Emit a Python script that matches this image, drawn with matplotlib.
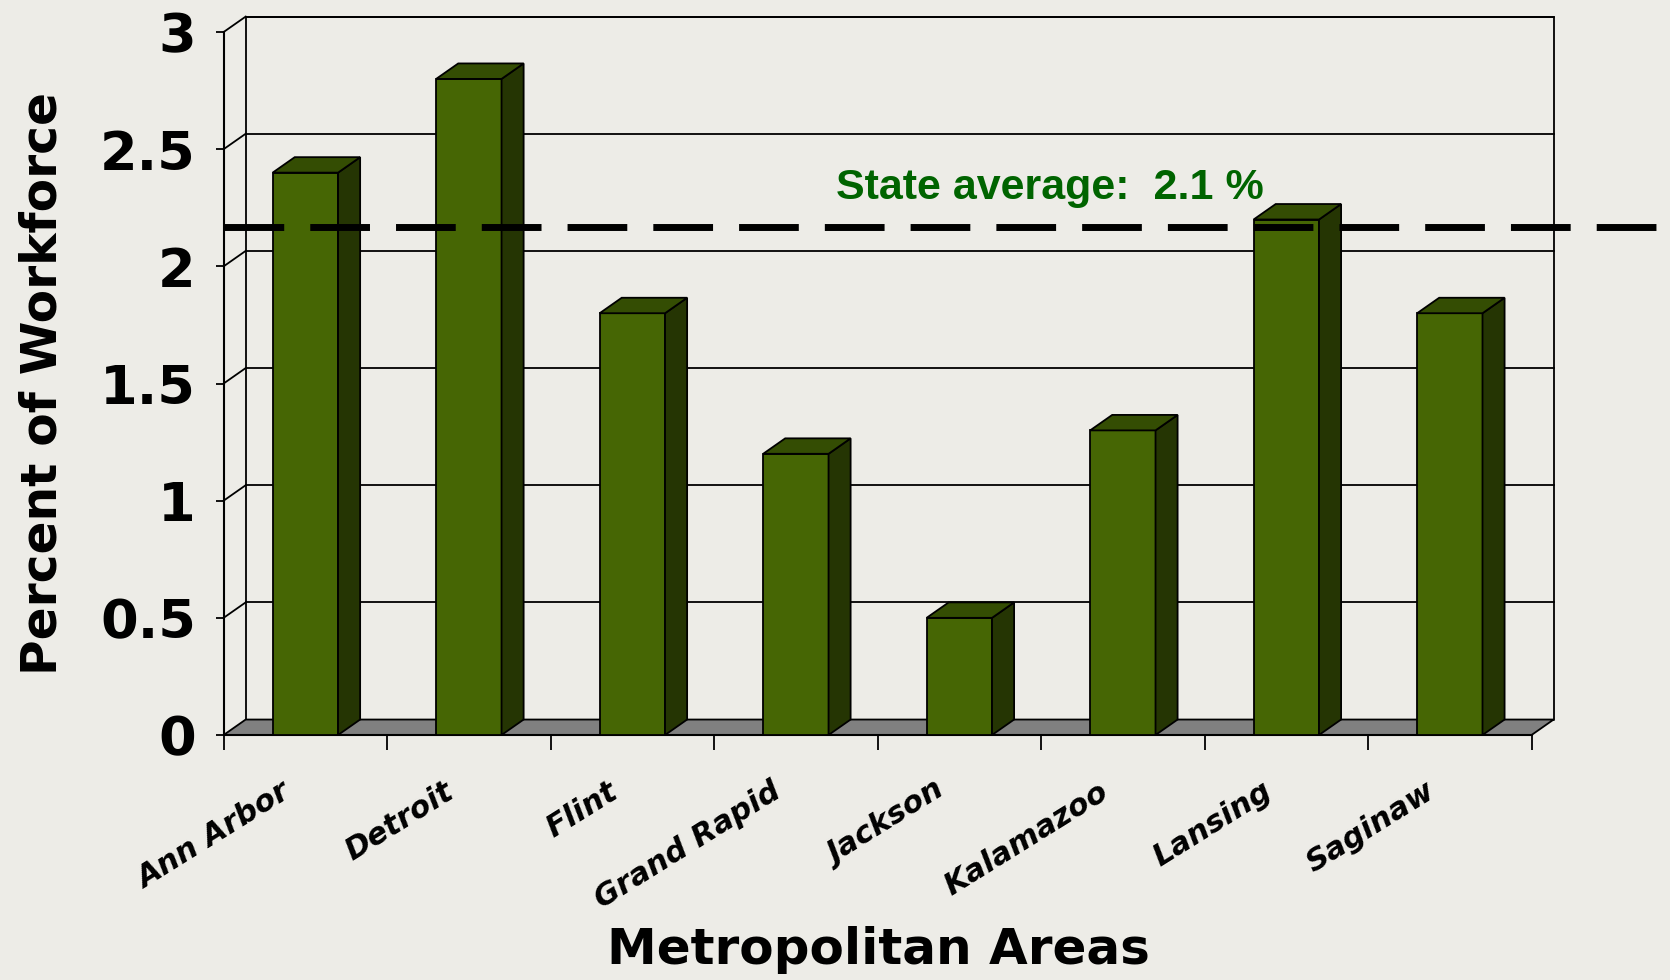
import numpy as np
import matplotlib
matplotlib.use("Agg")
import matplotlib.pyplot as plt
from matplotlib.patches import Polygon
from matplotlib.transforms import ScaledTranslation

# Data
areas = ["Ann Arbor", "Detroit", "Flint", "Grand Rapid", "Jackson",
         "Kalamazoo", "Lansing", "Saginaw"]
percent = [2.4, 2.8, 1.8, 1.2, 0.5, 1.3, 2.2, 1.8]
state_avg = 2.17
state_label = "State average:  2.1 %"
yticks = [0, 0.5, 1, 1.5, 2, 2.5, 3]
ytick_labels = ["0", "0.5", "1", "1.5", "2", "2.5", "3"]

# Colours
bg = "#EDECE7"
front_c = "#466604"
side_c = "#253503"
top_c = "#344D03"
floor_c = "#808080"

n = len(areas)
dx, dy = 0.135, 0.066      # fake 3D depth (x in categories, y in value units)
bw = 0.40                  # bar width
ymax = yticks[-1]

fig = plt.figure(figsize=(16.7, 9.8), dpi=100, facecolor=bg)
ax = fig.add_axes([0.1339, 0.25, 0.7832, 0.7173])
ax.set_facecolor("none")
ax.set_xlim(0, n)
ax.set_ylim(0, ymax)

# back wall + side wall
lw = 1.3
ax.plot([dx, n + dx, n + dx, dx, dx], [dy, dy, ymax + dy, ymax + dy, dy],
        color="black", lw=lw, zorder=1, clip_on=False)
for t in yticks[1:]:
    ax.plot([dx, n + dx], [t + dy, t + dy], color="black", lw=lw, zorder=1, clip_on=False)
    ax.plot([0, dx], [t, t + dy], color="black", lw=lw, zorder=1, clip_on=False)

# floor
ax.add_patch(Polygon([(0, 0), (n, 0), (n + dx, dy), (dx, dy)], closed=True,
                     facecolor=floor_c, edgecolor="black", lw=lw, zorder=1.5,
                     clip_on=False))

# bars
x0 = np.arange(n) + 0.30
bars = ax.bar(x0, percent, width=bw, align="edge", color=front_c,
              edgecolor="black", linewidth=1.3, zorder=3, clip_on=False)
for xs, v in zip(x0, percent):
    x1 = xs + bw
    ax.add_patch(Polygon([(x1, 0), (x1 + dx, dy), (x1 + dx, v + dy), (x1, v)],
                         closed=True, facecolor=side_c, edgecolor="black",
                         lw=1.3, zorder=3, clip_on=False))
    ax.add_patch(Polygon([(xs, v), (x1, v), (x1 + dx, v + dy), (xs + dx, v + dy)],
                         closed=True, facecolor=top_c, edgecolor="black",
                         lw=1.3, zorder=3, clip_on=False))

# state average line
ax.plot([0, 9.2], [state_avg, state_avg], color="black", lw=5,
        linestyle=(0, (8.6, 3.75)), dash_capstyle="butt", zorder=4, clip_on=False)
ax.text(3.745, 2.288, state_label, color="#006400", fontsize=31,
        fontweight="bold", family="Liberation Sans", ha="left",
        va="baseline", zorder=5)

# spines
for s in ["top", "right"]:
    ax.spines[s].set_visible(False)
ax.spines["left"].set_linewidth(1.5)
ax.spines["bottom"].set_linewidth(1.5)
ax.spines["left"].set_zorder(2)
ax.spines["bottom"].set_zorder(2)

# y ticks
ax.set_yticks(yticks)
ax.set_yticklabels(ytick_labels, fontsize=39, fontweight="bold")
ax.tick_params(axis="y", length=6, width=1.3, pad=14)

# x ticks: boundaries as major, names as minor
ax.set_xticks(np.arange(n + 1))
ax.set_xticklabels([""] * (n + 1))
ax.tick_params(axis="x", which="major", length=11, width=1.3)
ax.set_xticks(np.arange(n) + 0.5, minor=True)
ax.set_xticklabels(areas, minor=True, fontsize=22, fontweight="bold",
                   style="oblique", rotation=32, ha="right",
                   rotation_mode="anchor")
ax.tick_params(axis="x", which="minor", length=0, pad=30)
shift = ScaledTranslation(-0.25, 0, fig.dpi_scale_trans)
for lab in ax.get_xticklabels(minor=True):
    lab.set_transform(lab.get_transform() + shift)

ax.set_ylabel("Percent of Workforce", fontsize=35, fontweight="bold")
ax.yaxis.set_label_coords(-0.1205, 0.5)
ax.set_xlabel("Metropolitan Areas", fontsize=36, fontweight="bold")
ax.xaxis.set_label_coords(0.501, -0.272)

fig.savefig("out.png", dpi=100, facecolor=bg)
